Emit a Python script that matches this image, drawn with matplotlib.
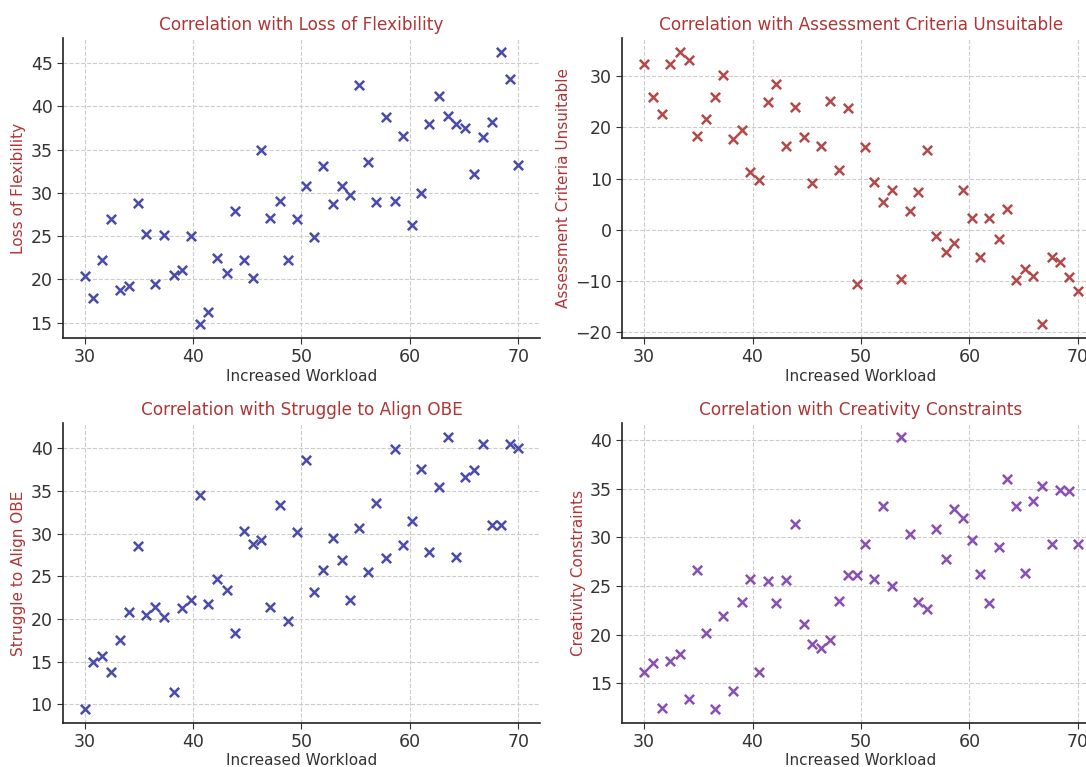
import matplotlib
matplotlib.use('Agg')
import matplotlib.pyplot as plt

workload = [30.0, 30.8, 31.6, 32.4, 33.3, 34.1, 34.9, 35.7, 36.5, 37.3,
            38.2, 39.0, 39.8, 40.6, 41.4, 42.2, 43.1, 43.9, 44.7, 45.5,
            46.3, 47.1, 48.0, 48.8, 49.6, 50.4, 51.2, 52.0, 52.9, 53.7,
            54.5, 55.3, 56.1, 56.9, 57.8, 58.6, 59.4, 60.2, 61.0, 61.8,
            62.7, 63.5, 64.3, 65.1, 65.9, 66.7, 67.6, 68.4, 69.2, 70.0]

loss_of_flexibility = [20.4, 17.8, 22.2, 27.0, 18.8, 19.2, 28.8, 25.2, 19.5, 25.1,
                       20.5, 21.1, 25.0, 14.8, 16.2, 22.5, 20.7, 27.9, 22.2, 20.2,
                       35.0, 27.1, 29.1, 22.2, 27.0, 30.8, 24.9, 33.1, 28.7, 30.8,
                       29.7, 42.4, 33.6, 28.9, 38.7, 29.0, 36.6, 26.3, 30.0, 38.0,
                       41.2, 38.9, 38.0, 37.5, 32.2, 36.5, 38.2, 46.3, 43.2, 33.2]

assessment_unsuitable = [32.4, 26.0, 22.7, 32.4, 34.8, 33.1, 18.3, 21.7, 26.0, 30.3,
                         17.8, 19.4, 11.2, 9.8, 25.0, 28.5, 16.3, 24.0, 18.1, 9.2,
                         16.4, 25.1, 11.6, 23.7, -10.7, 16.1, 9.35, 5.4, 7.7, -9.6,
                         3.6, 7.4, 15.5, -1.3, -4.3, -2.6, 7.85, 2.3, -5.4, 2.2,
                         -1.9, 4.1, -9.9, -7.65, -9.1, -18.5, -5.3, -6.3, -9.2, -12.0]

struggle_align_obe = [9.4, 14.9, 15.7, 13.8, 17.5, 20.8, 28.6, 20.5, 21.4, 20.2,
                      11.4, 21.3, 22.2, 34.6, 21.8, 24.7, 23.4, 18.3, 30.3, 28.75,
                      29.3, 21.4, 33.4, 19.8, 30.2, 38.6, 23.2, 25.7, 29.5, 26.9,
                      22.2, 30.7, 25.5, 33.6, 27.1, 39.9, 28.7, 31.5, 37.6, 27.8,
                      35.5, 41.4, 27.3, 36.7, 37.5, 40.5, 31.0, 31.0, 40.5, 40.0]

creativity_constraints = [16.15, 17.1, 12.4, 17.3, 18.0, 13.4, 26.7, 20.2, 12.3, 21.9,
                          14.2, 23.4, 25.7, 16.15, 25.5, 23.2, 25.6, 31.4, 21.1, 19.0,
                          18.6, 19.4, 23.5, 26.1, 26.1, 29.3, 25.7, 33.2, 25.05, 40.4,
                          30.4, 23.4, 22.6, 30.9, 27.8, 32.9, 32.0, 29.7, 26.25, 23.3,
                          29.0, 36.0, 33.2, 26.3, 33.8, 35.3, 29.3, 34.9, 34.8, 29.3]

panels = [
    ('Loss of Flexibility', loss_of_flexibility, '#4b4bab'),
    ('Assessment Criteria Unsuitable', assessment_unsuitable, '#b24a4a'),
    ('Struggle to Align OBE', struggle_align_obe, '#4b4bab'),
    ('Creativity Constraints', creativity_constraints, '#8a50b0'),
]

title_color = '#b03535'
text_color = '#333333'

fig = plt.figure(figsize=(10.86, 7.67), dpi=100)
lefts = [0.058, 0.5732]
bottoms = [0.5593, 0.0575]
w, h = 0.4392, 0.3911

for i, (name, values, color) in enumerate(panels):
    ax = fig.add_axes([lefts[i % 2], bottoms[i // 2], w, h])
    ax.scatter(workload, values, marker='x', color=color, s=45, linewidths=1.8)
    ax.set_title(f'Correlation with {name}', color=title_color, fontsize=12.2)
    ax.set_xlabel('Increased Workload', color=text_color, fontsize=11, labelpad=1.5)
    ax.set_ylabel(name, color=title_color, fontsize=11, labelpad=3)
    ax.grid(True, linestyle='--', color='#cccccc', linewidth=0.8)
    ax.set_axisbelow(True)
    for side in ('top', 'right'):
        ax.spines[side].set_visible(False)
    for side in ('left', 'bottom'):
        ax.spines[side].set_color('#222222')
        ax.spines[side].set_linewidth(1.2)
    ax.tick_params(labelsize=12.5, colors=text_color, length=4)
    ax.set_xticks([30, 40, 50, 60, 70])

fig.savefig('out.png', dpi=100)
